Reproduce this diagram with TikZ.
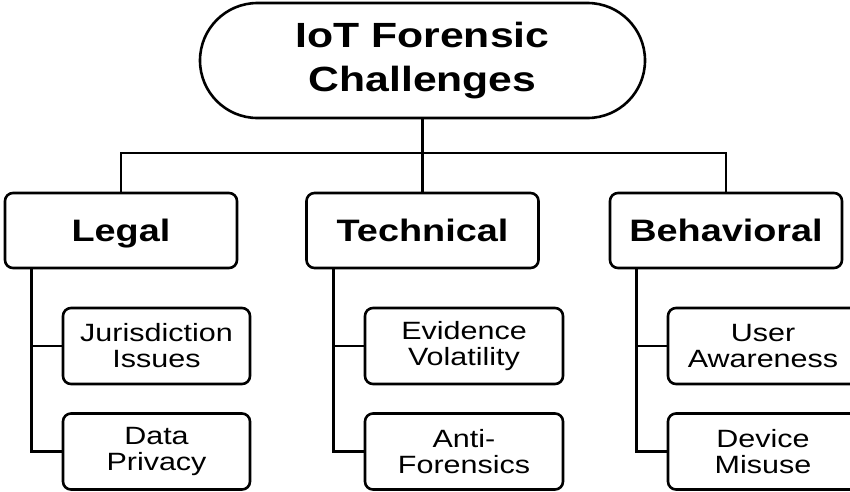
\documentclass[tikz,border=0pt]{standalone}
\usepackage{fontspec}
\setmainfont[FakeStretch=1.22]{Liberation Sans}
\usetikzlibrary{shapes.misc}
\tikzset{
    topbox/.style={draw, rounded rectangle, line width=2.6pt, minimum width=445pt, minimum height=115pt, inner sep=0pt, align=center, font=\bfseries\fontsize{35}{44}\selectfont},
    catbox/.style={draw, rectangle, rounded corners=8pt, line width=2.6pt, minimum width=232pt, minimum height=75pt, inner sep=0pt, text height=22pt, text depth=0pt, font=\bfseries\fontsize{31}{36}\selectfont},
    subbox/.style={draw, rectangle, rounded corners=8pt, line width=2.6pt, minimum height=76pt, inner sep=0pt, align=center, font=\fontsize{25}{26}\selectfont},
    link/.style={line width=2.6pt}
}
\begin{document}
\begin{tikzpicture}[x=1pt, y=-1pt]
\useasboundingbox (0,0) rectangle (850,491);
\clip (0,0) rectangle (850,491);

% Root
\node[topbox] (root) at (422.5,60.5) {IoT Forensic\\Challenges};

% Categories
\node[catbox] (legal) at (121,230.5) {Legal};
\node[catbox] (tech) at (422.5,230.5) {Technical};
\node[catbox] (behav) at (726,230.5) {Behavioral};

% Sub-challenges
\node[subbox, minimum width=187pt] (jur) at (156.5,346) {Jurisdiction\\Issues};
\node[subbox, minimum width=187pt] (priv) at (156.5,451.5) {Data\\Privacy};
\node[subbox, minimum width=198pt] (vol) at (464,346) {Evidence\\Volatility};
\node[subbox, minimum width=198pt] (anti) at (464,451.5) {Anti-\\Forensics};
\node[subbox, minimum width=190pt] (aware) at (763,346) {User\\Awareness};
\node[subbox, minimum width=190pt] (misuse) at (763,451.5) {Device\\Misuse};

% Root to categories
\coordinate (bus) at (422.5,153);
\draw[link] (root.south) -- (tech.north);
\draw[link] (legal.north) |- (bus -| behav.north) -- (behav.north);

% Categories to sub-challenges
\foreach \p/\c in {legal/jur, legal/priv, tech/vol, tech/anti, behav/aware, behav/misuse}
    \draw[link] ([xshift=28pt]\p.south west) |- (\c.west);
\end{tikzpicture}
\end{document}
